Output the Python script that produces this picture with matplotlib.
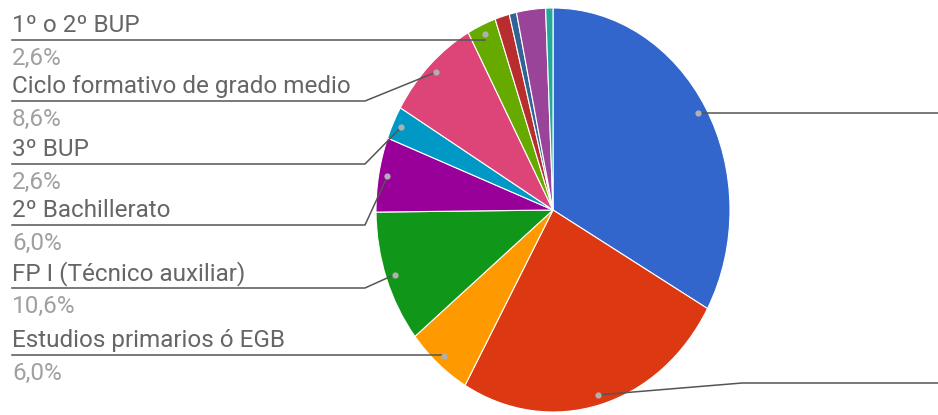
import numpy as np
import matplotlib.pyplot as plt

plt.rcParams['font.family'] = ['Roboto', 'DejaVu Sans']

# respondents (n = 151), clockwise from 12 o'clock
labels = ['', '', 'Estudios primarios ó EGB', 'FP I (Técnico auxiliar)',
          '2º Bachillerato', '3º BUP', 'Ciclo formativo de grado medio',
          '1º o 2º BUP', '', '', '', '']
counts = [50, 38, 9, 16, 9, 4, 13, 4, 2, 1, 4, 1]
colors = ['#3366cc', '#dc3912', '#ff9900', '#109618', '#990099', '#0099c6',
          '#dd4477', '#66aa00', '#b82e2e', '#316395', '#994499', '#22aa99']

W, H = 938, 415
CX, CY, RX, RY = 553, 210, 177, 202   # pie centre / radii in pixels (squeezed)

fig = plt.figure(figsize=(W / 100, H / 100), dpi=100)
ax = fig.add_axes([0, 0, 1, 1])
wedges, _ = ax.pie(counts, colors=colors, startangle=90, counterclock=False,
                   wedgeprops=dict(edgecolor='white', linewidth=0.8))
ax.set_aspect('auto')
ax.set_xlim(-CX / RX, (W - CX) / RX)
ax.set_ylim(-(H - CY) / RY, CY / RY)


def px(x, y):
    return (x - CX) / RX, (CY - y) / RY


total = sum(counts)
line_col = '#555555'
name_col = '#666666'
pct_col = '#a0a0a0'
fs = 17.5

# left side labels: index -> y of the leader line (pixels)
left_rows = {2: 355, 3: 288, 4: 225, 5: 164, 6: 101, 7: 40}
# right side labels (text falls outside the picture)
right_rows = {0: None, 1: 383}

for i, w in enumerate(wedges):
    if i not in left_rows and i not in right_rows:
        continue
    mid = np.deg2rad((w.theta1 + w.theta2) / 2)
    dx, dy = 0.95 * np.cos(mid), 0.95 * np.sin(mid)
    ax.plot(dx, dy, 'o', ms=4.5, color='#b0b0b0', mec='none', zorder=5)
    if i in left_rows:
        ly = left_rows[i]
        ex, ey = px(365, ly)
        if abs(ey - dy) < 0.03:
            xs, ys = [dx, px(12, ly)[0]], [ey, ey]
        else:
            xs, ys = [dx, ex, px(12, ly)[0]], [dy, ey, ey]
        ax.plot(xs, ys, color=line_col, lw=1.1, zorder=4)
        tx, ty = px(12, ly - 8)
        ax.text(tx, ty, labels[i], color=name_col, fontsize=fs, va='baseline', ha='left')
        pct = f'{counts[i] / total * 100:.1f}%'.replace('.', ',')
        tx, ty = px(12, ly + 25)
        ax.text(tx, ty, pct, color=pct_col, fontsize=fs, va='baseline', ha='left')
    else:
        ly = right_rows[i]
        if ly is None:
            xs, ys = [dx, px(W + 5, 0)[0]], [dy, dy]
        else:
            ex, ey = px(742, ly)
            xs, ys = [dx, ex, px(W + 5, ly)[0]], [dy, ey, ey]
        ax.plot(xs, ys, color=line_col, lw=1.1, zorder=4)

fig.savefig('out.png', dpi=100)
